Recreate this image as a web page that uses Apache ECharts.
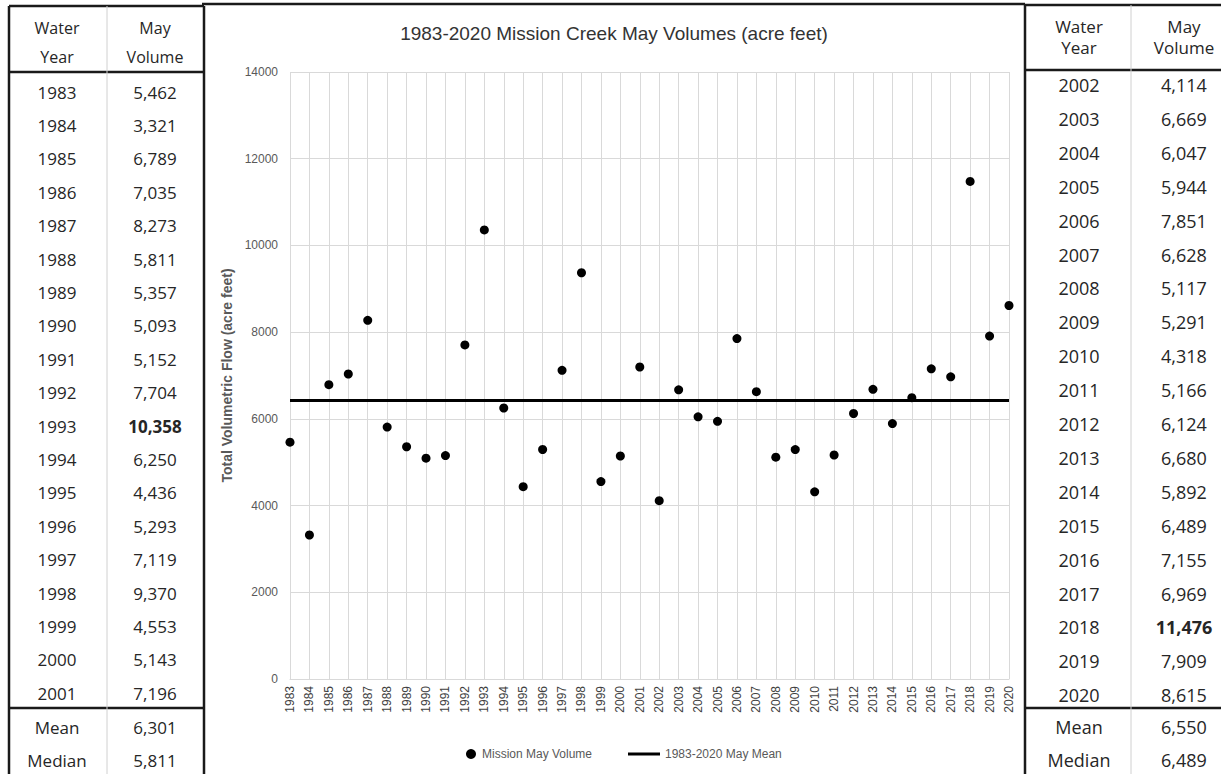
<!DOCTYPE html>
<html>
<head>
<meta charset="utf-8">
<style>
html,body{margin:0;padding:0;background:#fff;}
#chart{width:1221px;height:774px;}
</style>
<script src="https://cdn.jsdelivr.net/npm/echarts@6/dist/echarts.min.js"></script>
</head>
<body>
<div id="chart"></div>
<script>
// ---- data ----
const years = ['1983','1984','1985','1986','1987','1988','1989','1990','1991','1992','1993','1994','1995','1996','1997','1998','1999','2000','2001',
               '2002','2003','2004','2005','2006','2007','2008','2009','2010','2011','2012','2013','2014','2015','2016','2017','2018','2019','2020'];
const volumes = [5462,3321,6789,7035,8273,5811,5357,5093,5152,7704,10358,6250,4436,5293,7119,9370,4553,5143,7196,
                 4114,6669,6047,5944,7851,6628,5117,5291,4318,5166,6124,6680,5892,6489,7155,6969,11476,7909,8615];
const boldYears = ['1993','2018'];
const leftStats = [['Mean','6,301'],['Median','5,811']];
const rightStats = [['Mean','6,550'],['Median','6,489']];
const meanValue = 6426;
const meanSeries = years.map(() => meanValue);

const fmt = v => v.toLocaleString('en-US');
const tableFont = '"Open Sans", "Liberation Sans", sans-serif';

function buildTable(cfg) {
  const els = [];
  const line = (x1,y1,x2,y2,w,c) => els.push({type:'line', shape:{x1,y1,x2,y2}, style:{stroke:c, lineWidth:w}, silent:true});
  const text = (x,y,t,bold,size) => els.push({type:'text', style:{x, y, text:t, fill:'#262626', font:(bold?'bold ':'') + size + 'px ' + tableFont, textAlign:'center', textVerticalAlign:'middle'}});
  line(cfg.x0, cfg.top, cfg.x1, cfg.top, 2.5, '#1a1a1a');
  line(cfg.x0, cfg.top, cfg.x0, 774, 2.5, '#1a1a1a');
  if (cfg.drawRight) line(cfg.x1, cfg.top, cfg.x1, 774, 2.5, '#1a1a1a');
  line(cfg.x0, cfg.headerLine, cfg.x1, cfg.headerLine, 2.5, '#1a1a1a');
  line(cfg.x0, cfg.statLine, cfg.x1, cfg.statLine, 2.5, '#1a1a1a');
  line(cfg.sep, cfg.top, cfg.sep, 774, 1, '#d0d0d0');
  text(cfg.c1, cfg.h1, 'Water', false, cfg.hsize);
  text(cfg.c1, cfg.h2, 'Year', false, cfg.hsize);
  text(cfg.c2, cfg.h1, 'May', false, cfg.hsize);
  text(cfg.c2, cfg.h2, 'Volume', false, cfg.hsize);
  for (let i = 0; i < cfg.count; i++) {
    const idx = cfg.start + i;
    const y = cfg.rowStart + i * cfg.rowStep;
    const b = boldYears.indexOf(years[idx]) >= 0;
    text(cfg.c1, y, years[idx], false, cfg.size);
    text(cfg.c2, y, fmt(volumes[idx]), b, cfg.size);
  }
  cfg.stats.forEach((s, i) => {
    const y = cfg.statStart + i * cfg.statStep;
    text(cfg.c1, y, s[0], false, cfg.size);
    text(cfg.c2, y, s[1], false, cfg.size);
  });
  return els;
}

const graphics = [].concat(
  buildTable({x0:9, x1:204, sep:107, top:6, headerLine:72, statLine:708, c1:57, c2:155, h1:28, h2:57, hsize:16,
              start:0, count:19, rowStart:92, rowStep:33.4, stats:leftStats, statStart:727, statStep:33, size:17, drawRight:true}),
  buildTable({x0:1025, x1:1222, sep:1131, top:5, headerLine:70, statLine:708, c1:1079, c2:1184, h1:26, h2:47, hsize:17,
              start:19, count:19, rowStart:85, rowStep:33.9, stats:rightStats, statStart:727, statStep:33, size:18, drawRight:false}),
  [
    {type:'line', shape:{x1:202, y1:4, x2:1025, y2:4}, style:{stroke:'#1a1a1a', lineWidth:2.5}, silent:true},
    {type:'text', style:{x:614, y:33, text:'1983-2020 Mission Creek May Volumes (acre feet)', fill:'#333', font:'19px "Liberation Sans Narrow", "Liberation Sans", sans-serif', textAlign:'center', textVerticalAlign:'middle'}}
  ]
);

const legendText = {fontSize:12, color:'#595959', fontFamily:'"Liberation Sans Narrow", "Liberation Sans", sans-serif'};

const chart = echarts.init(document.getElementById('chart'), null, {renderer:'svg'});
chart.setOption({
  animation:false,
  backgroundColor:'#fff',
  grid:{left:290, right:212, top:72, bottom:95, containLabel:false},
  xAxis:{
    type:'category', data:years, boundaryGap:false,
    axisLine:{show:true, lineStyle:{color:'#d9d9d9'}},
    axisTick:{show:false},
    axisLabel:{rotate:90, interval:0, fontSize:12, color:'#404040', margin:7, fontFamily:'"Liberation Sans", sans-serif'},
    splitLine:{show:true, lineStyle:{color:'#d9d9d9', width:1}}
  },
  yAxis:{
    type:'value', min:0, max:14000, interval:2000,
    name:'Total Volumetric Flow (acre feet)', nameLocation:'middle', nameRotate:90, nameGap:52,
    nameTextStyle:{fontSize:14, color:'#595959', fontWeight:'bold', fontFamily:'"Liberation Sans Narrow", "Liberation Sans", sans-serif'},
    axisLine:{show:false}, axisTick:{show:false},
    axisLabel:{fontSize:12, color:'#595959', margin:12, formatter:v => String(v), fontFamily:'"Liberation Sans Narrow", "Liberation Sans", sans-serif'},
    splitLine:{show:true, lineStyle:{color:'#d9d9d9', width:1}}
  },
  legend:[
    {left:461, top:743, itemWidth:12, itemHeight:10, itemGap:0, textStyle:legendText,
     data:[{name:'Mission May Volume', icon:'circle'}]},
    {left:623, top:743, itemWidth:32, itemHeight:3, itemGap:0, textStyle:legendText,
     data:[{name:'1983-2020 May Mean', icon:'rect', itemStyle:{color:'#000'}}]}
  ],
  series:[
    {name:'Mission May Volume', type:'scatter', data:volumes, symbol:'circle', symbolSize:9, itemStyle:{color:'#000', opacity:1}, z:3},
    {name:'1983-2020 May Mean', type:'line', data:meanSeries, symbol:'none', lineStyle:{color:'#000', width:3}, itemStyle:{color:'#000'}, z:2}
  ],
  graphic:graphics
});
</script>
</body>
</html>
